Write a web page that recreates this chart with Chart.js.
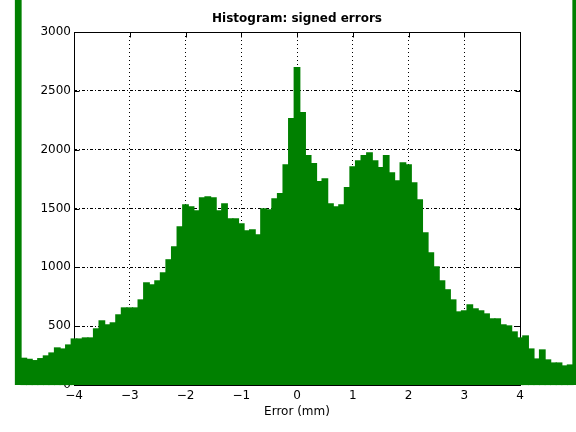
<!DOCTYPE html>
<html>
<head>
<meta charset="utf-8">
<script src="https://cdn.jsdelivr.net/npm/chart.js@4/dist/chart.umd.min.js"></script>
<style>
  html, body { margin: 0; padding: 0; background: #fff; }
  canvas { display: block; }
</style>
</head>
<body>
<canvas id="chart" width="576" height="432"></canvas>
<script>
// histogram of signed errors, bins 0.1 mm wide, centred on -5 ... 5
// (outer bins hold all the outliers and run off the top of the figure)
const binCounts = [
  4000, 227, 218, 207, 224, 247, 272, 315, 306, 340,
  391, 391, 400, 400, 477, 545, 511, 528, 596, 655,
  655, 655, 723, 868, 851, 885, 953, 1064, 1174, 1345,
  1532, 1515, 1481, 1591, 1600, 1591, 1481, 1540, 1413, 1413,
  1370, 1311, 1319, 1277, 1498, 1489, 1583, 1626, 1872, 2264,
  2698, 2315, 1949, 1881, 1728, 1753, 1540, 1515, 1532, 1677,
  1855, 1906, 1949, 1974, 1906, 1847, 1949, 1804, 1736, 1889,
  1872, 1719, 1574, 1294, 1123, 1004, 885, 809, 723, 621,
  630, 681, 647, 630, 604, 562, 562, 511, 502, 451,
  400, 417, 306, 221, 298, 213, 187, 187, 162, 170,
  4000
];
const binStart = -5;
const binWidth = 0.1;
const binCenters = binCounts.map((_, i) => Math.round((binStart + i * binWidth) * 10) / 10);

const xTicks = [-4, -3, -2, -1, 0, 1, 2, 3, 4];
const yTicks = [0, 500, 1000, 1500, 2000, 2500, 3000];

const chartTitle = "Histogram: signed errors";
const xLabel = "Error (mm)";

const FONT = '"DejaVu Sans", "Liberation Sans", Arial, sans-serif';

// axes box + inward tick marks, matlab style
const axesBox = {
  id: "axesBox",
  beforeDatasetsDraw(chart) {
    const { ctx, chartArea: a, scales } = chart;
    const L = Math.round(a.left) + 0.5, R = Math.round(a.right) + 0.5;
    const T = Math.round(a.top) + 0.5, B = Math.round(a.bottom) + 0.5;
    const tl = 5;
    ctx.save();
    ctx.strokeStyle = "#000";
    ctx.lineWidth = 1;
    ctx.setLineDash([]);
    ctx.beginPath();
    ctx.moveTo(L, B); ctx.lineTo(L, T); ctx.lineTo(R, T); ctx.lineTo(R, B);
    yTicks.forEach(v => {
      const y = Math.round(scales.y.getPixelForValue(v)) + 0.5;
      ctx.moveTo(L, y); ctx.lineTo(L + tl, y);
      ctx.moveTo(R, y); ctx.lineTo(R - tl, y);
    });
    xTicks.forEach(v => {
      const x = Math.round(scales.x.getPixelForValue(v)) + 0.5;
      ctx.moveTo(x, T); ctx.lineTo(x, T + tl);
    });
    ctx.stroke();
    ctx.restore();
  },
  afterDatasetsDraw(chart) {
    const { ctx, chartArea: a } = chart;
    const B = Math.round(a.bottom) + 0.5;
    ctx.save();
    ctx.strokeStyle = "#000";
    ctx.lineWidth = 1;
    ctx.beginPath();
    ctx.moveTo(Math.round(a.left), B);
    ctx.lineTo(Math.round(a.right) + 1, B);
    ctx.stroke();
    ctx.restore();
  },
  afterDraw(chart) {
    const { ctx, chartArea: a } = chart;
    ctx.save();
    ctx.font = "bold 12px " + FONT;
    ctx.fillStyle = "#000";
    ctx.textAlign = "center";
    ctx.textBaseline = "alphabetic";
    ctx.fillText(chartTitle, (a.left + a.right) / 2, a.top - 10);
    ctx.restore();
  }
};

const minus = v => String(v).replace("-", "\u2212");

const ctx = document.getElementById("chart");
const chart = new Chart(ctx, {
  type: "bar",
  data: {
    datasets: [
      {
        label: "count",
        data: binCenters.map((x, i) => ({ x: x, y: binCounts[i] })),
        backgroundColor: "#008000",
        borderWidth: 0,
        inflateAmount: 0.6,
        barPercentage: 1,
        categoryPercentage: 1,
        clip: false,
      },
    ],
  },
  options: {
    responsive: false,
    animation: false,
    devicePixelRatio: 1,
    layout: { padding: { left: 0, right: 56, top: 32, bottom: 0 } },
    plugins: {
      legend: { display: false },
      tooltip: { enabled: false },
    },
    scales: {
      x: {
        type: "linear",
        min: -4,
        max: 4,
        offset: false,
        afterFit: s => { s.height = 47; },
        afterBuildTicks: s => { s.ticks = xTicks.map(v => ({ value: v })); },
        grid: {
          offset: false,
          color: "#000",
          lineWidth: 1,
          drawTicks: false,
        },
        border: { display: false, dash: [1, 3] },
        ticks: {
          color: "#000",
          padding: 4,
          maxRotation: 0,
          font: { family: FONT, size: 12 },
          callback: v => minus(v),
        },
        title: {
          display: true,
          text: xLabel,
          color: "#000",
          font: { family: FONT, size: 12 },
          padding: { top: 0, bottom: 13 },
        },
      },
      y: {
        min: 0,
        max: 3000,
        afterFit: s => { s.width = 74; },
        afterBuildTicks: s => { s.ticks = yTicks.map(v => ({ value: v })); },
        grid: {
          color: "#000",
          lineWidth: 1,
          drawTicks: false,
        },
        border: { display: false, dash: [3, 2, 1, 2] },
        ticks: {
          color: "#000",
          padding: 3,
          font: { family: FONT, size: 12 },
          callback: v => String(v),
        },
      },
    },
  },
  plugins: [axesBox],
});
</script>
</body>
</html>
